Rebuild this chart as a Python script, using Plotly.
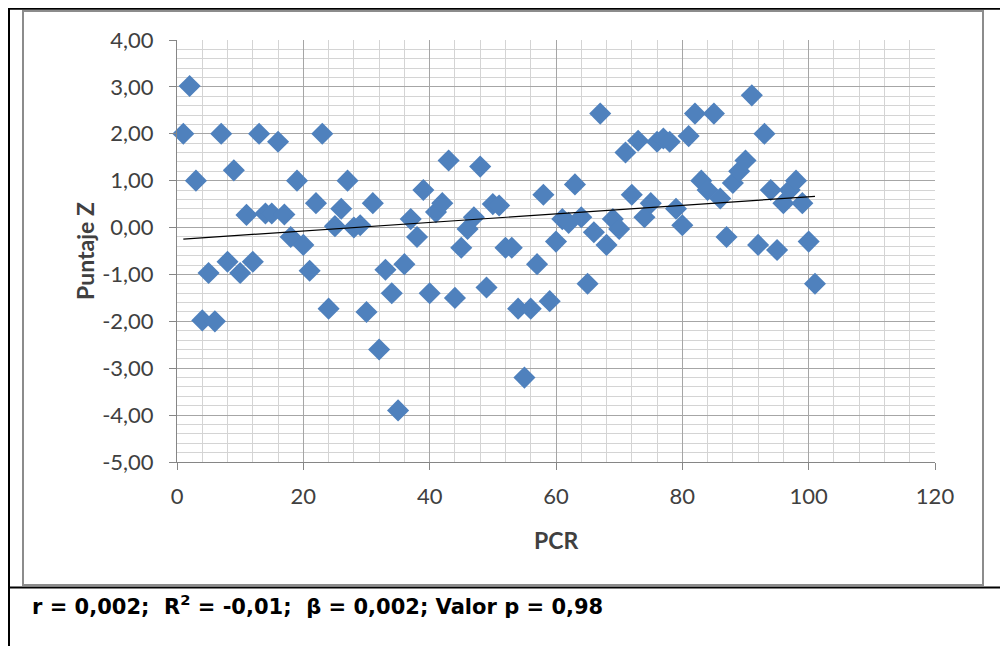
import numpy as np
import plotly.graph_objects as go

# ---- data ----
pcr = list(range(1, 102))
puntaje_z = [
    2.00, 3.02, 1.00, -1.98, -0.97, -2.00, 2.00, -0.73, 1.22, -0.97,
    0.27, -0.73, 2.00, 0.30, 0.30, 1.83, 0.28, -0.20, 1.00, -0.37,
    -0.92, 0.52, 2.00, -1.73, 0.03, 0.40, 1.00, 0.00, 0.05, -1.80,
    0.52, -2.60, -0.90, -1.40, -3.90, -0.78, 0.18, -0.20, 0.80, -1.40,
    0.33, 0.52, 1.43, -1.50, -0.43, -0.03, 0.22, 1.30, -1.28, 0.50,
    0.47, -0.43, -0.43, -1.73, -3.20, -1.73, -0.78, 0.70, -1.57, -0.30,
    0.18, 0.10, 0.92, 0.22, -1.20, -0.10, 2.43, -0.37, 0.18, -0.03,
    1.60, 0.70, 1.85, 0.22, 0.52, 1.83, 1.90, 1.83, 0.40, 0.05,
    1.95, 2.43, 1.00, 0.80, 2.43, 0.62, -0.20, 0.95, 1.20, 1.43,
    2.82, -0.37, 2.00, 0.80, -0.48, 0.52, 0.80, 1.00, 0.52, -0.30,
    -1.20,
]
y_tickvals = [4, 3, 2, 1, 0, -1, -2, -3, -4, -5]
y_ticktext = ["4,00", "3,00", "2,00", "1,00", "0,00", "-1,00", "-2,00", "-3,00", "-4,00", "-5,00"]
x_tickvals = [0, 20, 40, 60, 80, 100, 120]
x_ticktext = ["0", "20", "40", "60", "80", "100", "120"]
stats_text = "r = 0,002;&nbsp; R<sup>2</sup> = -0,01;&nbsp; β = 0,002; Valor p = 0,98"

# linear trend fitted to the data
slope, intercept = np.polyfit(pcr, puntaje_z, 1)
trend_x = [min(pcr), max(pcr)]
trend_y = [intercept + slope * v for v in trend_x]

# page offset (default body margin of the html page)
OX, OY = 8, 8
W, H = 1008, 646
L, R, T, B = 169, 81, 32, 192
PW, PH = W - L - R, H - T - B


def px(xs):
    """screen x pixel -> paper x"""
    return (xs - OX - L) / PW


def py(ys):
    """screen y pixel -> paper y"""
    return (H - B - (ys - OY)) / PH


fig = go.Figure()
fig.add_trace(go.Scatter(
    x=pcr, y=puntaje_z, mode="markers",
    marker=dict(symbol="diamond", size=17, color="#4F81BD",
                line=dict(width=0)),
    hoverinfo="x+y", showlegend=False, cliponaxis=False,
))
fig.add_trace(go.Scatter(
    x=trend_x, y=trend_y, mode="lines",
    line=dict(color="#000000", width=1.2), showlegend=False,
))

axis_common = dict(
    showline=True, linecolor="#868686", linewidth=1,
    ticks="outside", ticklen=7, tickcolor="#868686",
    showgrid=True, gridcolor="#a6a6a6", gridwidth=1,
    zeroline=False,
    tickfont=dict(family="Lato, Liberation Sans, sans-serif", size=22, color="#404040"),
)

fig.update_xaxes(
    range=[0, 120], tickvals=x_tickvals, ticktext=x_ticktext,
    ticklabelstandoff=8,
    minor=dict(dtick=4, showgrid=True, gridcolor="#d4d4d4", gridwidth=1, ticks=""),
    **axis_common,
)
fig.update_yaxes(
    range=[-5, 4], tickvals=y_tickvals, ticktext=y_ticktext,
    ticklabelstandoff=11,
    minor=dict(dtick=0.2, showgrid=True, gridcolor="#d4d4d4", gridwidth=1, ticks=""),
    **axis_common,
)

shapes = [
    # gray chart border
    dict(type="rect", xref="paper", yref="paper",
         x0=px(23), x1=px(983), y0=py(585), y1=py(11),
         line=dict(color="#8c8c8c", width=2), layer="below"),
    # black table lines
    dict(type="line", xref="paper", yref="paper",
         x0=px(0), x1=px(1020), y0=py(8.6), y1=py(8.6),
         line=dict(color="#000000", width=2.5)),
    dict(type="line", xref="paper", yref="paper",
         x0=px(9), x1=px(9), y0=py(8), y1=py(660),
         line=dict(color="#000000", width=2)),
    dict(type="line", xref="paper", yref="paper",
         x0=px(8), x1=px(1020), y0=py(587.5), y1=py(587.5),
         line=dict(color="#000000", width=2)),
]

annotations = [
    dict(text="<b>Puntaje Z</b>", xref="paper", yref="paper",
         x=px(85), y=py(251), showarrow=False, textangle=-90,
         font=dict(family="Lato, Liberation Sans, sans-serif", size=23, color="#404040"),
         xanchor="center", yanchor="middle"),
    dict(text="<b>PCR</b>", xref="paper", yref="paper",
         x=px(556), y=py(540), showarrow=False,
         font=dict(family="Lato, Liberation Sans, sans-serif", size=23, color="#404040"),
         xanchor="center", yanchor="middle"),
    dict(text="<b>" + stats_text + "</b>", xref="paper", yref="paper",
         x=px(30), y=py(605), showarrow=False,
         font=dict(family="DejaVu Sans, Liberation Sans, sans-serif", size=21, color="#000000"),
         xanchor="left", yanchor="middle"),
]

fig.update_layout(
    width=W, height=H,
    margin=dict(l=L, r=R, t=T, b=B),
    paper_bgcolor="white", plot_bgcolor="white",
    shapes=shapes, annotations=annotations,
    showlegend=False,
)

fig.write_html("out.html")
